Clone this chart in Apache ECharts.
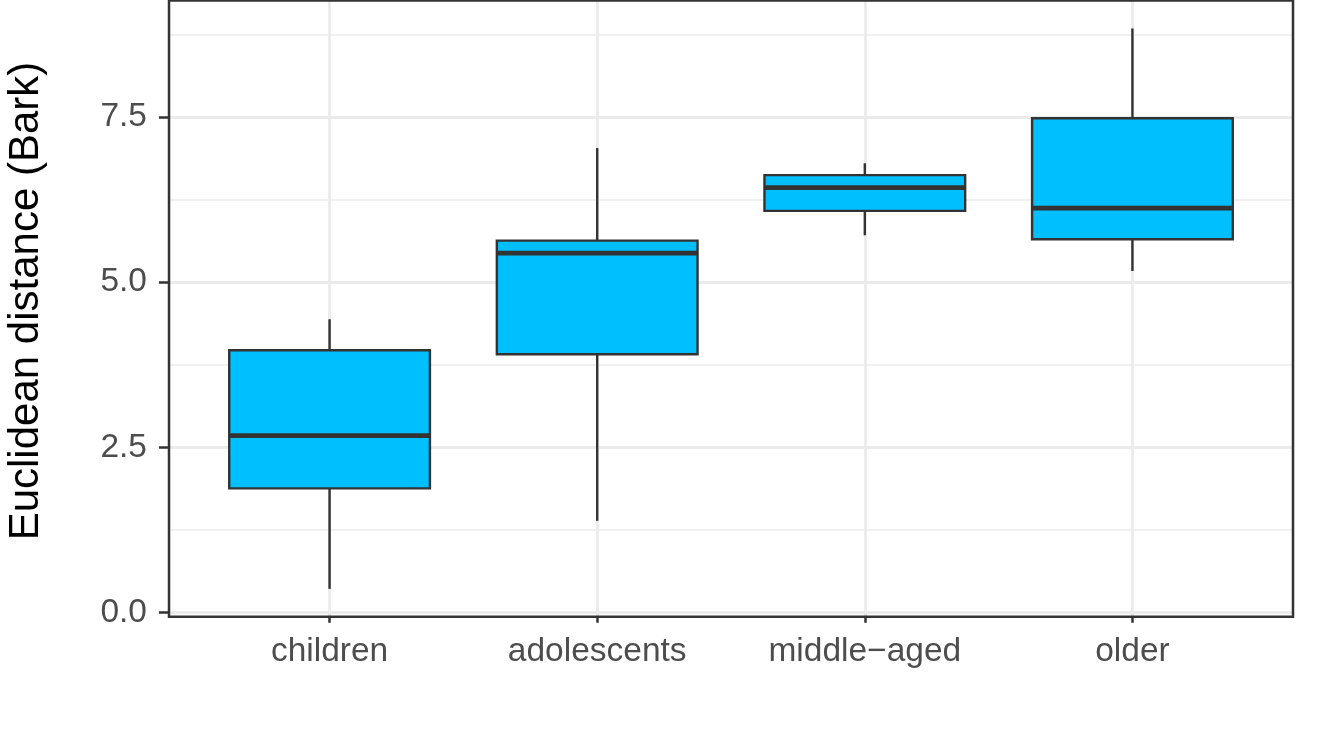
<!DOCTYPE html>
<html><head><meta charset="utf-8">
<script src="https://cdn.jsdelivr.net/npm/echarts@6/dist/echarts.min.js"></script>
<style>html,body{margin:0;padding:0;background:#fff}#chart{width:1321px;height:750px}</style>
</head><body><div id="chart"></div>
<script>
const categories = ['children', 'adolescents', 'middle\u2212aged', 'older'];
const whiskerLow = [0.36, 1.39, 5.71, 5.17];
const q1 = [1.88, 3.91, 6.08, 5.65];
const median = [2.68, 5.44, 6.43, 6.12];
const q3 = [3.97, 5.63, 6.62, 7.48];
const whiskerHigh = [4.44, 7.03, 6.80, 8.84];
const yTicks = [0, 2.5, 5, 7.5];
const yMinorTicks = [1.25, 3.75, 6.25, 8.75];
const xPositions = [1, 2, 3, 4];

const boxData = categories.map((c, i) => [xPositions[i], whiskerLow[i], q1[i], median[i], q3[i], whiskerHigh[i]]);

const INK = '#333333';
const GRID = '#EBEBEB';
const FONT = 'Liberation Sans';

function renderBox(params, api) {
  const x = api.value(0);
  const lo = api.coord([x, api.value(1)]);
  const b1 = api.coord([x, api.value(2)]);
  const md = api.coord([x, api.value(3)]);
  const b3 = api.coord([x, api.value(4)]);
  const hi = api.coord([x, api.value(5)]);
  const half = api.size([0.75, 0])[0] / 2;
  const cx = lo[0];
  return {
    type: 'group',
    children: [
      { type: 'line', shape: { x1: cx, y1: hi[1], x2: cx, y2: b3[1] }, style: { stroke: INK, lineWidth: 2.4 } },
      { type: 'line', shape: { x1: cx, y1: b1[1], x2: cx, y2: lo[1] }, style: { stroke: INK, lineWidth: 2.4 } },
      { type: 'rect', shape: { x: cx - half, y: b3[1], width: 2 * half, height: b1[1] - b3[1] },
        style: { fill: '#00BFFF', stroke: INK, lineWidth: 2.4 } },
      { type: 'line', shape: { x1: cx - half, y1: md[1], x2: cx + half, y2: md[1] }, style: { stroke: INK, lineWidth: 4.8 } }
    ]
  };
}

const gridLines = [].concat(
  yTicks.map(v => ({ yAxis: v, lineStyle: { color: GRID, width: 2.8, type: 'solid' } })),
  yMinorTicks.map(v => ({ yAxis: v, lineStyle: { color: GRID, width: 1.5, type: 'solid' } })),
  xPositions.map(v => ({ xAxis: v, lineStyle: { color: GRID, width: 2.8, type: 'solid' } }))
);

const chart = echarts.init(document.getElementById('chart'), null, { renderer: 'canvas' });
chart.setOption({
  animation: false,
  backgroundColor: '#ffffff',
  grid: {
    show: true, z: 10, left: 169, right: 28, top: 0.4, bottom: 133.3,
    containLabel: false, outerBoundsMode: 'none',
    borderColor: INK, borderWidth: 2.5, backgroundColor: 'transparent'
  },
  xAxis: {
    type: 'value', min: 0.4, max: 4.6,
    axisLine: { show: false },
    splitLine: { show: false },
    axisTick: { show: true, customValues: xPositions, length: 10, lineStyle: { color: INK, width: 2.5 } },
    axisLabel: {
      customValues: xPositions,
      formatter: v => categories[Math.round(v) - 1],
      color: '#4D4D4D', fontSize: 33.5, fontFamily: FONT, margin: 18
    }
  },
  yAxis: {
    type: 'value', min: -0.061, max: 9.264,
    name: 'Euclidean distance (Bark)',
    nameLocation: 'middle', nameGap: 122,
    nameTextStyle: { color: '#000000', fontSize: 42, fontFamily: FONT, padding: [0, 0, 0, 15] },
    axisLine: { show: false },
    splitLine: { show: false },
    axisTick: { show: true, customValues: yTicks, length: 10, lineStyle: { color: INK, width: 2.5 } },
    axisLabel: {
      customValues: yTicks,
      formatter: v => Number(v).toFixed(1),
      color: '#4D4D4D', fontSize: 33.5, fontFamily: FONT, margin: 22
    }
  },
  series: [{
    type: 'custom',
    silent: true,
    renderItem: renderBox,
    encode: { x: 0, y: [1, 2, 3, 4, 5] },
    data: boxData,
    z: 2,
    markLine: {
      silent: true, symbol: 'none', z: 1, animation: false,
      label: { show: false },
      emphasis: { disabled: true },
      data: gridLines
    }
  }]
});
</script></body></html>
